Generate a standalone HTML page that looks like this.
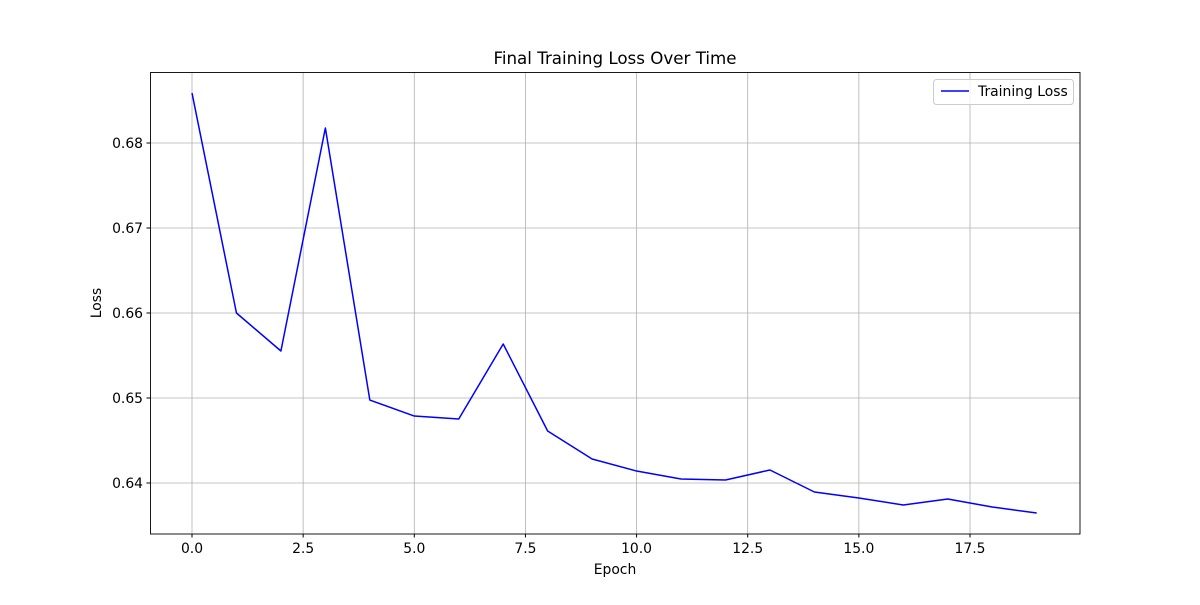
<!DOCTYPE html>
<html><head><meta charset="utf-8"><style>
body{margin:0;background:#fff;}
svg text{font-family:"DejaVu Sans","Liberation Sans",sans-serif;fill:#000;}
</style></head><body>
<svg id="chart" width="1200" height="600" xmlns="http://www.w3.org/2000/svg">
<rect width="1200" height="600" fill="#fff"/>
<g id="grid"></g>
<g id="series"></g>
<rect x="150.5" y="72.5" width="929.5" height="461.5" fill="none" stroke="#000" stroke-width="0.9"/>
<g id="xticks"></g>
<g id="yticks"></g>
<text x="615" y="64" font-size="16.7" text-anchor="middle">Final Training Loss Over Time</text>
<text x="615" y="574" font-size="13.9" text-anchor="middle">Epoch</text>
<text x="101" y="303" font-size="13.9" text-anchor="middle" transform="rotate(-90 101 303)">Loss</text>
<g>
<rect x="933.5" y="79.5" width="140" height="25" rx="3" fill="#fff" fill-opacity="0.8" stroke="#ccc"/>
<line x1="941" y1="91" x2="969" y2="91" stroke="blue" stroke-width="1.5"/>
<text x="978" y="96" font-size="13.9">Training Loss</text>
</g>
</svg>
<script>
const epochs=[0,1,2,3,4,5,6,7,8,9,10,11,12,13,14,15,16,17,18,19];
const losses=[0.68588,0.6600,0.65553,0.68176,0.64976,0.64788,0.64753,0.65635,0.64612,0.64282,0.64141,0.64047,0.64035,0.64153,0.63894,0.63824,0.63741,0.63812,0.63718,0.63647];
const xTicks=[0,2.5,5,7.5,10,12.5,15,17.5];
const xTickLabels=["0.0","2.5","5.0","7.5","10.0","12.5","15.0","17.5"];
const yTicks=[0.64,0.65,0.66,0.67,0.68];
const yTickLabels=["0.64","0.65","0.66","0.67","0.68"];
const NS="http://www.w3.org/2000/svg";
const L=150,R=1080,T=72,B=534;
const xs=v=>192+(v)*(970-192)/17.5;
const ys=v=>483-(v-0.64)*8500;
function mk(t,a,p){const e=document.createElementNS(NS,t);for(const k in a)e.setAttribute(k,a[k]);p.appendChild(e);return e;}
const grid=document.getElementById('grid'),xt=document.getElementById('xticks'),yt=document.getElementById('yticks');
xTicks.forEach((v,i)=>{const x=xs(v);
const g=mk('line',{x1:x,x2:x,y1:T,y2:B,stroke:'#b0b0b0','stroke-width':0.8},grid);


const t=mk('line',{x1:x,x2:x,y1:B,y2:B+3.5,stroke:'#000'},xt);


const l=mk('text',{x:x,y:B+19,'font-size':13.9,'text-anchor':'middle'},xt);l.textContent=xTickLabels[i];

});
yTicks.forEach((v,i)=>{const y=ys(v);
const g=mk('line',{x1:L,x2:R,y1:y,y2:y,stroke:'#b0b0b0','stroke-width':0.8},grid);


const t=mk('line',{x1:L-3.5,x2:L,y1:y,y2:y,stroke:'#000'},yt);


const l=mk('text',{x:L-7,y:y+5,'font-size':13.9,'text-anchor':'end'},yt);l.textContent=yTickLabels[i];

});
const pts=epochs.map((e,i)=>xs(e)+','+ys(losses[i])).join(' ');
const line=mk('polyline',{points:pts,fill:'none',stroke:'blue','stroke-width':1.5,'stroke-linejoin':'round'},document.getElementById('series'));


</script>
</body></html>
